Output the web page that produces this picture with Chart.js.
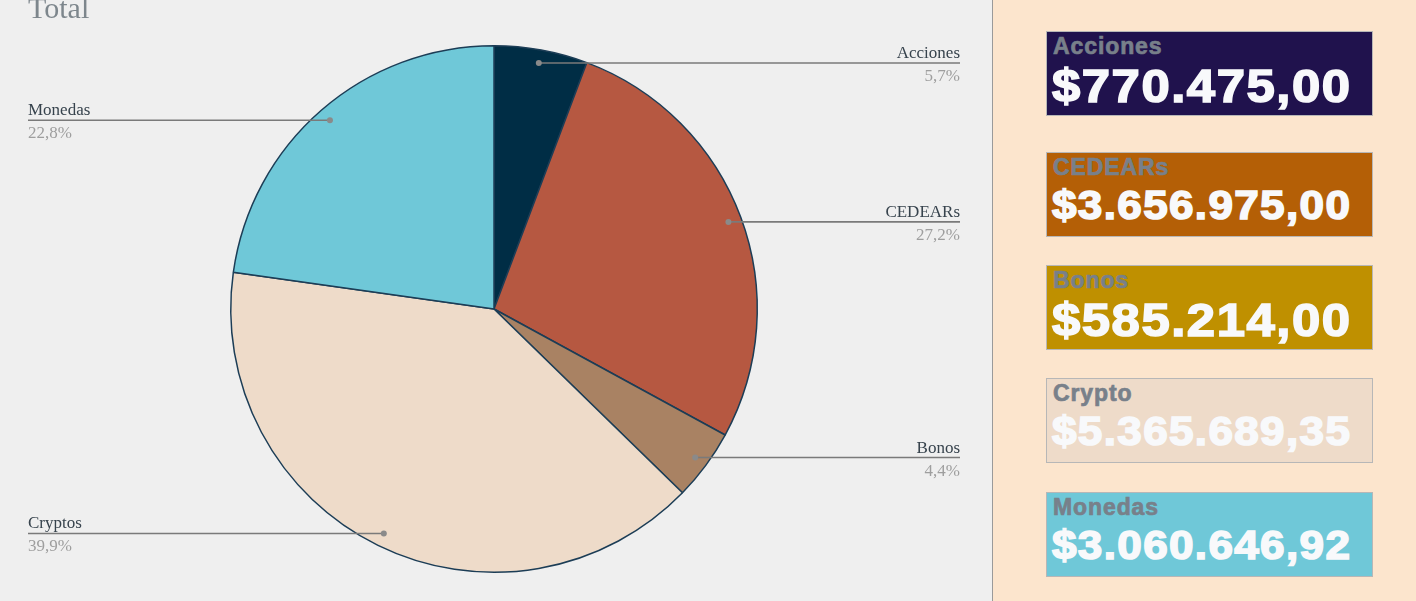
<!DOCTYPE html>
<html>
<head>
<meta charset="utf-8">
<script src="https://cdn.jsdelivr.net/npm/chart.js@4/dist/chart.umd.min.js"></script>
<style>
  html, body { margin: 0; padding: 0; }
  body { width: 1416px; height: 601px; overflow: hidden; position: relative; background: #efefef; }
  #left { position: absolute; left: 0; top: 0; width: 992px; height: 601px; background: #efefef; }
  #title { position: absolute; left: 28px; top: -9px; font: 30px "Liberation Serif", serif; color: #7d868c; }
  #right { position: absolute; left: 992px; top: 0; width: 424px; height: 601px; background: #fce5cd; border-left: 1px solid #9a9a9a; }
  .card { position: absolute; left: 53px; width: 325px; height: 83px; border: 1px solid #b7b7b7; box-sizing: content-box; }
  .card .lbl { position: absolute; left: 6px; top: 1px; font: bold 23px "Liberation Sans", Arial, sans-serif; letter-spacing: 0.9px; color: #78808a; -webkit-text-stroke: 0.7px #78808a; }
  .card .val { position: absolute; left: 5px; line-height: 1; white-space: nowrap; font-family: "Liberation Sans", Arial, sans-serif; font-weight: bold; letter-spacing: 0.03em; color: #f8f9fb; -webkit-text-stroke: 1.6px #f8f9fb; transform-origin: 0 0; transform: scaleX(1.1); }
</style>
</head>
<body>
<div id="left">
  <canvas id="pieChart" width="992" height="601"></canvas>
  <div id="title">Total</div>
</div>
<div id="right"></div>
<script>
const labels = ["Acciones", "CEDEARs", "Bonos", "Cryptos", "Monedas"];
const values = [770475.00, 3656975.00, 585214.00, 5365689.35, 3060646.92];
const colors = ["#002d45", "#b65841", "#a98263", "#eedbc9", "#6fc8d8"];

const cardLabels = ["Acciones", "CEDEARs", "Bonos", "Crypto", "Monedas"];
const cardColors = ["#20124d", "#b45f06", "#bf9000", "#eedbc9", "#6fc8d8"];
const cardTops = [31, 152, 265, 378, 492];

const fmt = (v) => "$" + v.toLocaleString("de-DE", { minimumFractionDigits: 2, maximumFractionDigits: 2 });

// scorecards: value text is shrunk to fit the card width
const right = document.getElementById("right");
cardLabels.forEach((name, i) => {
    const card = document.createElement("div");
    card.className = "card";
    card.style.top = cardTops[i] + "px";
    card.style.background = cardColors[i];
    card.innerHTML = `<div class="lbl">${name}</div><span class="val">${fmt(values[i])}</span>`;
    right.appendChild(card);
    const val = card.querySelector(".val");
    let fs = 50;
    val.style.fontSize = fs + "px";
    const w = val.getBoundingClientRect().width - 0.03 * fs * 1.1;
    fs = fs * 298 / w;
    val.style.fontSize = fs + "px";
    val.style.top = (37 - 0.13 * fs) + "px";
});

const total = values.reduce((a, b) => a + b, 0);

const calloutPlugin = {
    id: "callouts",
    afterDatasetsDraw(chart) {
        const ctx = chart.ctx;
        const meta = chart.getDatasetMeta(0);
        meta.data.forEach((arc, i) => {
            const p = arc.getProps(["x", "y", "startAngle", "endAngle", "outerRadius"], true);
            const mid = (p.startAngle + p.endAngle) / 2;
            const dx = p.x + Math.cos(mid) * p.outerRadius * 0.95;
            const dy = p.y + Math.sin(mid) * p.outerRadius * 0.95;
            const onRight = Math.cos(mid) >= 0;
            const ex = onRight ? 960 : 28;

            ctx.save();
            ctx.strokeStyle = "#7a7a7a";
            ctx.lineWidth = 1.6;
            ctx.beginPath();
            ctx.moveTo(dx, dy);
            ctx.lineTo(ex, dy);
            ctx.stroke();

            ctx.fillStyle = "#8a8a8a";
            ctx.beginPath();
            ctx.arc(dx, dy, 3, 0, Math.PI * 2);
            ctx.fill();

            ctx.textAlign = onRight ? "right" : "left";
            ctx.textBaseline = "alphabetic";
            ctx.font = '17px "Liberation Serif", serif';
            ctx.fillStyle = "#37434d";
            ctx.fillText(labels[i], ex, dy - 5);
            ctx.fillStyle = "#9e9e9e";
            const pct = (values[i] / total * 100).toFixed(1).replace(".", ",") + "%";
            ctx.fillText(pct, ex, dy + 18);
            ctx.restore();
        });
    }
};

new Chart(document.getElementById("pieChart").getContext("2d"), {
    type: "pie",
    data: {
        labels: labels,
        datasets: [{
            data: values,
            backgroundColor: colors,
            borderColor: "#1c3d56",
            borderWidth: 1.5
        }]
    },
    options: {
        responsive: false,
        animation: false,
        layout: { padding: { top: 45, bottom: 28, left: 0, right: 4 } },
        plugins: {
            legend: { display: false },
            tooltip: { enabled: false }
        }
    },
    plugins: [calloutPlugin]
});
</script>
</body>
</html>
